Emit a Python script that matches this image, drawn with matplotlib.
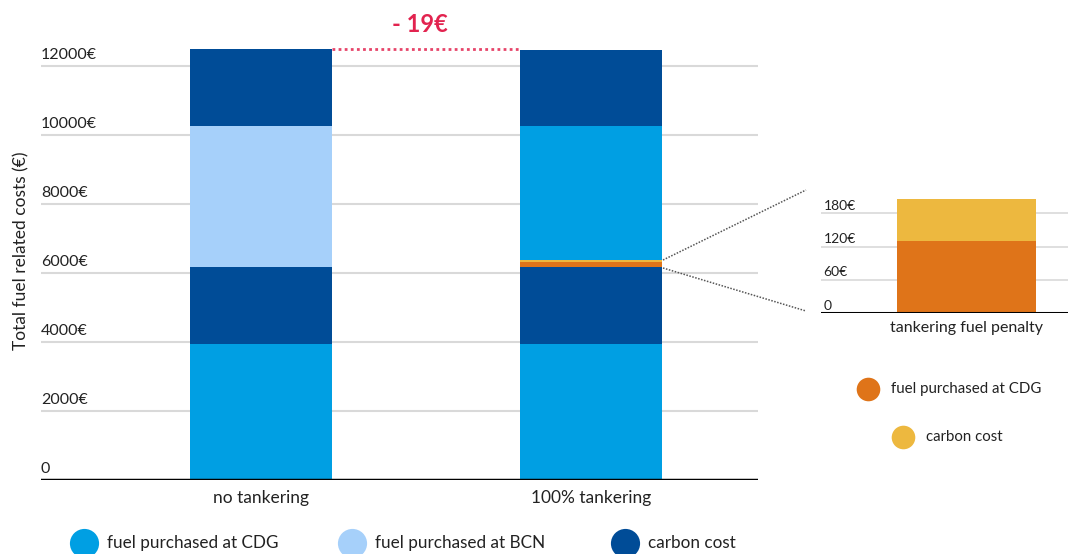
import matplotlib.pyplot as plt
from matplotlib.lines import Line2D

plt.rcParams['font.family'] = ['Lato', 'DejaVu Sans']

# main chart data
scenarios = ['no tankering', '100% tankering']
cdg_bottom = [3950, 3950]
carbon_bottom = [2230, 2230]
penalty_cdg = [0, 131]
penalty_carbon = [0, 74]
fuel_bcn = [4100, 0]
cdg_top = [0, 3876]
carbon_top = [2220, 2220]
main_ticks = [0, 2000, 4000, 6000, 8000, 10000, 12000]
saving_label = '- 19€'

# inset data
inset_cat = ['tankering fuel penalty']
inset_cdg = [131]
inset_carbon = [74]
inset_ticks = [0, 60, 120, 180]

c_cdg = '#009fe3'
c_bcn = '#a6d0fa'
c_carbon = '#004c97'
c_orange = '#df7419'
c_yellow = '#edb83f'
c_red = '#e2234f'
c_grid = '#d9d9d9'
c_text = '#222222'

W, H = 1068, 554
fig = plt.figure(figsize=(W / 100, H / 100), dpi=100)


def px(x0, y0, x1, y1):
    # pixel box -> figure fraction rect
    return [x0 / W, 1 - y1 / H, (x1 - x0) / W, (y1 - y0) / H]


# ---------- main stacked bars ----------
ax = fig.add_axes(px(41, 49, 758, 480))
ax.set_xlim(-0.667, 1.506)
ax.set_ylim(0, 12500)
bw = 0.43
x = [0, 1]

segments = [
    (cdg_bottom, c_cdg),
    (carbon_bottom, c_carbon),
    (penalty_cdg, c_orange),
    (penalty_carbon, c_yellow),
    (fuel_bcn, c_bcn),
    (cdg_top, c_cdg),
    (carbon_top, c_carbon),
]
bottom = [0, 0]
for vals, col in segments:
    ax.bar(x, vals, bw, bottom=bottom, color=col, linewidth=0, zorder=3)
    bottom = [b + v for b, v in zip(bottom, vals)]
totals = bottom

for t in main_ticks[1:]:
    ax.axhline(t, color=c_grid, lw=1.5, zorder=1)
ax.axhline(0, color='black', lw=2.5, zorder=4)
for t in main_ticks:
    lbl = '0' if t == 0 else f'{t}€'
    ax.text(-0.667, t + 110, lbl, ha='left', va='bottom', fontsize=11.5,
            color=c_text)

for xi, name in zip(x, scenarios):
    ax.text(xi, -300, name, ha='center', va='top', fontsize=12.5,
            color=c_text, clip_on=False)

# saving marker between the two bar tops
ax.plot([bw / 2, 1 - bw / 2], [totals[0], totals[0]], ls=(0, (1, 1.2)),
        color=c_red, lw=2, alpha=0.85, zorder=5, clip_on=False)
ax.text(0.48, 13200, saving_label, ha='center', va='center', fontsize=17,
        fontweight='bold', color=c_red, clip_on=False)

ax.set_xticks([])
ax.set_yticks([])
for s in ax.spines.values():
    s.set_visible(False)

fig.text(21 / W, 1 - 251 / H, 'Total fuel related costs (€)', rotation=90,
         ha='center', va='center', fontsize=12.5, color=c_text)

# ---------- inset: tankering penalty ----------
ax2 = fig.add_axes(px(821, 196.6, 1068, 313.3))
ax2.set_xlim(-0.524, 0.365)
ax2.set_ylim(0, 210)
ax2.bar([0], inset_cdg, 0.5, color=c_orange, linewidth=0, zorder=3)
ax2.bar([0], inset_carbon, 0.5, bottom=inset_cdg, color=c_yellow,
        linewidth=0, zorder=3)
for t in inset_ticks[1:]:
    ax2.axhline(t, color=c_grid, lw=1.2, zorder=1)
ax2.axhline(0, color='black', lw=2.2, zorder=4)
for t in inset_ticks:
    lbl = '0' if t == 0 else f'{t}€'
    ax2.text(-0.515, t + 3, lbl, ha='left', va='bottom', fontsize=10,
             color=c_text)
ax2.text(0, -14, inset_cat[0], ha='center', va='top', fontsize=11.5,
         color=c_text, clip_on=False)
ax2.set_xticks([])
ax2.set_yticks([])
for s in ax2.spines.values():
    s.set_visible(False)

# zoom guide lines from the penalty slice to the inset
for y0, y1 in [(260, 190), (268, 311)]:
    fig.add_artist(Line2D([663 / W, 806 / W], [1 - y0 / H, 1 - y1 / H],
                          ls=(0, (1, 1)), color='#555555', lw=1.1))

# ---------- legends ----------
def legend_item(cx, cy, color, label, size=12.3, r=21):
    fig.add_artist(Line2D([cx / W], [1 - cy / H], marker='o', ms=r,
                          color=color, ls='none', mec='none'))
    fig.text((cx + 23) / W, 1 - cy / H, label, ha='left', va='center',
             fontsize=size, color=c_text)


legend_item(84, 543, c_cdg, 'fuel purchased at CDG')
legend_item(352, 543, c_bcn, 'fuel purchased at BCN')
legend_item(625, 543, c_carbon, 'carbon cost')
legend_item(868, 389, c_orange, 'fuel purchased at CDG', size=10.8, r=17)
legend_item(903, 437, c_yellow, 'carbon cost', size=10.8, r=17)

fig.savefig('out.png', dpi=100)
